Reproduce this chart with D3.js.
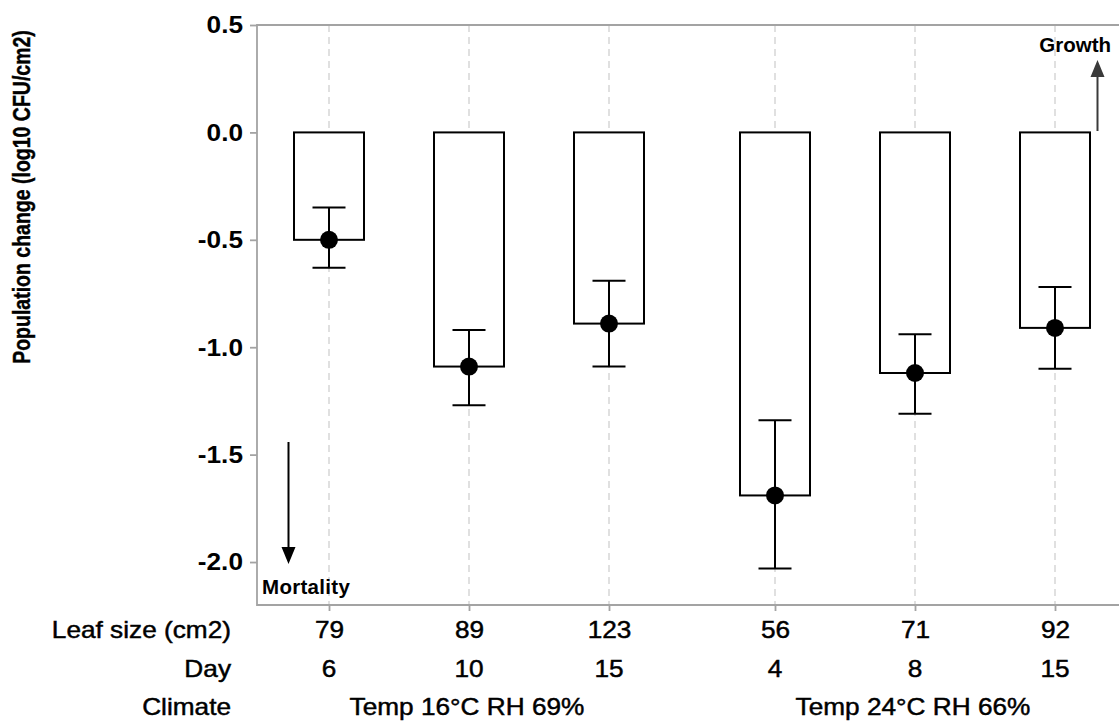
<!DOCTYPE html>
<html>
<head>
<meta charset="utf-8">
<script src="https://cdn.jsdelivr.net/npm/d3@7"></script>
<style>
  html, body { margin: 0; padding: 0; background: #fff; }
  svg { display: block; font-family: "Liberation Sans", Arial, sans-serif; }
</style>
</head>
<body>
<svg id="chart" width="1119" height="722"></svg>
<script>
// Leaf population change per sampling, grouped by climate
const leafSize = [79, 89, 123, 56, 71, 92];
const days = [6, 10, 15, 4, 8, 15];
const climate = ["Temp 16°C RH 69%", "Temp 16°C RH 69%", "Temp 16°C RH 69%",
                 "Temp 24°C RH 66%", "Temp 24°C RH 66%", "Temp 24°C RH 66%"];
const meanChange = [-0.50, -1.09, -0.89, -1.69, -1.12, -0.91];
const upperBar = [-0.35, -0.92, -0.69, -1.34, -0.94, -0.72];
const lowerBar = [-0.63, -1.27, -1.09, -2.03, -1.31, -1.10];
const yTicks = [0.5, 0.0, -0.5, -1.0, -1.5, -2.0];
const rowLabels = ["Leaf size (cm2)", "Day", "Climate"];

const svg = d3.select("#chart");
const plot = { left: 257, top: 25, right: 1135, bottom: 605 };
const sx = 1.14; // horizontal stretch applied to axis and table text

const rows = leafSize.map((s, i) => ({
  key: String(s), leaf: s, day: days[i], climate: climate[i],
  mean: meanChange[i], hi: upperBar[i], lo: lowerBar[i]
}));

// Scales
const y = d3.scaleLinear().domain([-2.2, 0.5]).range([plot.bottom, plot.top]);
const groups = Array.from(new Set(climate));
const groupX = d3.scaleBand().domain(groups).range([246, 1138]).paddingInner(0);
const inner = d3.scalePoint().domain([0, 1, 2]).range([-140, 140]);
const withinIdx = rows.map((r, i) => rows.slice(0, i).filter(q => q.climate === r.climate).length);
const x = d3.scaleOrdinal()
  .domain(rows.map(r => r.key))
  .range(rows.map((r, i) => groupX(r.climate) + groupX.bandwidth() / 2 + inner(withinIdx[i])));

const axisGrey = "#a3a3a3";

// Vertical dashed gridlines
svg.append("g").selectAll("line").data(rows).join("line")
  .attr("x1", d => x(d.key)).attr("x2", d => x(d.key))
  .attr("y1", plot.top).attr("y2", plot.bottom)
  .attr("stroke", "#d9d9d9").attr("stroke-width", 1.6)
  .attr("stroke-dasharray", "7,5");

// Plot frame (top, left, bottom)
svg.append("path")
  .attr("d", `M${plot.right},${plot.top}H${plot.left}V${plot.bottom}H${plot.right}`)
  .attr("fill", "none").attr("stroke", axisGrey).attr("stroke-width", 1.8);

// Y axis
const yAxis = svg.append("g").attr("transform", `translate(${plot.left},0)`)
  .call(d3.axisLeft(y).tickValues(yTicks).tickSize(7).tickFormat(d => d.toFixed(1)));
yAxis.select(".domain").remove();
yAxis.selectAll(".tick line").attr("stroke", axisGrey).attr("stroke-width", 1.8);
yAxis.selectAll(".tick text")
  .attr("x", null).attr("dy", null)
  .attr("transform", `translate(-14,0) scale(${sx},1)`)
  .attr("dominant-baseline", "central")
  .attr("font-size", 23).attr("font-weight", "bold").attr("fill", "#000")
  .attr("font-family", "Liberation Sans, Arial, sans-serif");

// Regular-weight labels get a hairline outline for a heavier look
function heavy(sel) {
  return sel.attr("fill", "#000").attr("stroke", "#000").attr("stroke-width", 0.45);
}

// X axis with leaf size labels
const xAxis = svg.append("g").attr("transform", `translate(0,${plot.bottom})`)
  .call(d3.axisBottom(x).tickSize(6).tickSizeOuter(0).tickFormat(k => k));
xAxis.select(".domain").remove();
xAxis.selectAll(".tick line").attr("stroke", axisGrey).attr("stroke-width", 1.8);
heavy(xAxis.selectAll(".tick text")
  .attr("y", null).attr("dy", null)
  .attr("transform", `translate(0,33) scale(${sx},1)`)
  .attr("font-size", 23)
  .attr("font-family", "Liberation Sans, Arial, sans-serif"));

// Day row
heavy(svg.append("g").selectAll("text").data(rows).join("text")
  .attr("transform", d => `translate(${x(d.key)},677) scale(${sx},1)`)
  .attr("text-anchor", "middle").attr("font-size", 23)
  .text(d => d.day));

// Climate row, centred on each group
heavy(svg.append("g").selectAll("text").data(groups).join("text")
  .attr("transform", g => `translate(${groupX(g) + groupX.bandwidth() / 2 - 2},715) scale(${sx},1)`)
  .attr("text-anchor", "middle").attr("font-size", 23)
  .text(g => g));

// Row headings
const rowY = [638, 677, 715];
heavy(svg.append("g").selectAll("text").data(rowLabels).join("text")
  .attr("transform", (t, i) => `translate(231,${rowY[i]}) scale(${sx},1)`)
  .attr("text-anchor", "end").attr("font-size", 23)
  .text(t => t));

// Y axis title
svg.append("text")
  .attr("transform", "translate(29.5,197) rotate(-90) scale(1,1.22)")
  .attr("text-anchor", "middle").attr("font-size", 19.5).attr("font-weight", "bold")
  .attr("stroke", "#000").attr("stroke-width", 0.35)
  .text("Population change (log10 CFU/cm2)");

// Bars
const barW = 70;
svg.append("g").selectAll("rect").data(rows).join("rect")
  .attr("x", d => x(d.key) - barW / 2)
  .attr("y", d => y(Math.max(0, d.mean)))
  .attr("width", barW)
  .attr("height", d => Math.abs(y(d.mean) - y(0)))
  .attr("fill", "#fff").attr("stroke", "#000").attr("stroke-width", 2);

// Error bars
const capW = 33;
const eb = svg.append("g").attr("stroke", "#000").attr("stroke-width", 2);
eb.selectAll("line.v").data(rows).join("line").attr("class", "v")
  .attr("x1", d => x(d.key)).attr("x2", d => x(d.key))
  .attr("y1", d => y(d.hi)).attr("y2", d => y(d.lo));
eb.selectAll("line.t").data(rows).join("line").attr("class", "t")
  .attr("x1", d => x(d.key) - capW / 2).attr("x2", d => x(d.key) + capW / 2)
  .attr("y1", d => y(d.hi)).attr("y2", d => y(d.hi));
eb.selectAll("line.b").data(rows).join("line").attr("class", "b")
  .attr("x1", d => x(d.key) - capW / 2).attr("x2", d => x(d.key) + capW / 2)
  .attr("y1", d => y(d.lo)).attr("y2", d => y(d.lo));

// Mean points
svg.append("g").selectAll("circle").data(rows).join("circle")
  .attr("cx", d => x(d.key)).attr("cy", d => y(d.mean)).attr("r", 9)
  .attr("fill", "#000");

// Direction annotations
function arrow(xPos, yFrom, yTo, color) {
  const dir = yTo < yFrom ? -1 : 1;
  const head = 17;
  svg.append("line")
    .attr("x1", xPos).attr("x2", xPos)
    .attr("y1", yFrom).attr("y2", yTo - dir * head + dir * 2)
    .attr("stroke", color).attr("stroke-width", 2);
  svg.append("path")
    .attr("d", `M${xPos},${yTo}L${xPos - 7},${yTo - dir * head}L${xPos + 7},${yTo - dir * head}Z`)
    .attr("fill", color);
}
arrow(1097.5, 131, 60, "#3a3a3a");
arrow(288.5, 442, 564, "#000");

svg.append("text")
  .attr("x", 1111).attr("y", 52).attr("text-anchor", "end")
  .attr("font-size", 20.5).attr("font-weight", "bold")
  .text("Growth");
svg.append("text")
  .attr("x", 262).attr("y", 594)
  .attr("font-size", 20.5).attr("font-weight", "bold").attr("letter-spacing", 0.3)
  .text("Mortality");
</script>
</body>
</html>
